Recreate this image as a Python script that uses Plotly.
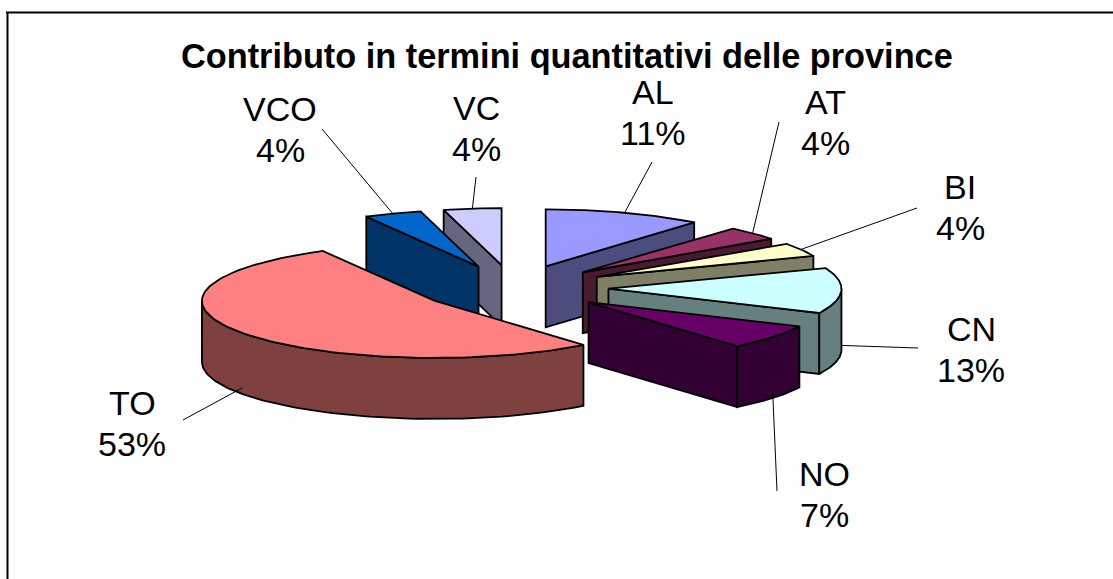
import numpy as np
import plotly.graph_objects as go

categories = ["AL", "AT", "BI", "CN", "NO", "TO", "VCO", "VC"]
values = [11, 4, 4, 13, 7, 53, 4, 4]
top_colors = ["#9999FF", "#993366", "#FFFFCC", "#CCFFFF", "#660066", "#FF8080", "#0066CC", "#CCCCFF"]
side_colors = ["#4C4C7F", "#4C1933", "#7F7F66", "#667F7F", "#330033", "#7F4040", "#003366", "#66667F"]
draw_order = ["VC", "AL", "VCO", "AT", "BI", "CN", "NO", "TO"]

# pie projection (paper pixels)
CX, CY, EX, EY, RX, RY, DEPTH = 513.5, 288, 95, 23, 233, 57, 61

# label anchor (text centre) and leader-line end for each province
label_pos = {"AL": (653, 112), "AT": (825, 122), "BI": (960, 207), "CN": (971, 349),
             "NO": (824, 494), "TO": (132, 423), "VCO": (280, 129), "VC": (476, 128)}
leader_end = {"AL": (652, 162), "AT": (779, 122), "BI": (917, 208), "CN": (918, 348),
              "NO": (777, 491), "TO": (183, 420), "VCO": (322, 129), "VC": (476, 177)}
LINE_GAP = 41

total = sum(values)
fracs = np.cumsum([0] + values) / total * 2 * np.pi
geom = {}
for i, c in enumerate(categories):
    a0, a1 = fracs[i], fracs[i + 1]
    mid = (a0 + a1) / 2
    geom[c] = dict(ax=CX + EX * np.sin(mid), ay=CY - EY * np.cos(mid), a0=a0, a1=a1,
                   top=top_colors[i], side=side_colors[i], mid=mid)


def rim(g, t):
    t = np.asarray(t)
    return g["ax"] + RX * np.sin(t), g["ay"] - RY * np.cos(t)


fig = go.Figure()


def poly(x, y, color):
    fig.add_trace(go.Scatter(x=list(x) + [x[0]], y=list(y) + [y[0]], mode="lines", fill="toself",
                             fillcolor=color, line=dict(color="black", width=1.8),
                             hoverinfo="skip", showlegend=False))


def radial_wall(g, a):
    ex, ey = rim(g, a)
    ax, ay = g["ax"], g["ay"]
    poly([ax, ex, ex, ax], [ay, ey, ey + DEPTH, ay + DEPTH], g["side"])


for c in draw_order:
    g = geom[c]
    a0, a1 = g["a0"], g["a1"]
    # flat cut faces turned to the viewer
    if np.sin(a1) > 1e-6:
        radial_wall(g, a1)
    if np.sin(a0) < -1e-6:
        radial_wall(g, a0)
    # curved outer wall on the near half of the ellipse
    lo, hi = max(a0, np.pi / 2), min(a1, 3 * np.pi / 2)
    if hi > lo:
        t = np.linspace(lo, hi, 80)
        x, y = rim(g, t)
        poly(list(x) + list(x[::-1]), list(y) + list((y + DEPTH)[::-1]), g["side"])
    # top face
    t = np.linspace(a0, a1, 120)
    x, y = rim(g, t)
    poly([g["ax"]] + list(x), [g["ay"]] + list(y), g["top"])

annotations = [dict(x=567, y=56, xref="x", yref="y", text="<b>Contributo in termini quantitativi delle province</b>",
                    showarrow=False, font=dict(family="Liberation Sans", size=34.3, color="black"))]
shapes = [
    dict(type="line", xref="x", yref="y", x0=6, y0=12.5, x1=1113, y1=12.5, line=dict(color="black", width=2)),
    dict(type="line", xref="x", yref="y", x0=7.5, y0=12, x1=7.5, y1=579, line=dict(color="black", width=2)),
]
for i, c in enumerate(categories):
    g = geom[c]
    lx, ly = label_pos[c]
    for text, off in ((c, -LINE_GAP / 2), (f"{values[i]}%", LINE_GAP / 2)):
        annotations.append(dict(x=lx, y=ly + off, xref="x", yref="y", text=text, showarrow=False,
                                font=dict(family="Liberation Sans", size=34, color="black")))
    m = g["mid"]
    sx, sy = rim(g, m)
    if np.cos(m) < 0:
        sy = sy + DEPTH * 0.9
    ex, ey = leader_end[c]
    shapes.append(dict(type="line", xref="x", yref="y", x0=sx, y0=sy, x1=ex, y1=ey,
                       line=dict(color="black", width=1)))

fig.update_layout(
    width=1113, height=579, margin=dict(l=0, r=0, t=0, b=0), showlegend=False,
    paper_bgcolor="white", plot_bgcolor="white",
    xaxis=dict(range=[0, 1113], visible=False, fixedrange=True),
    yaxis=dict(range=[579, 0], visible=False, fixedrange=True),
    annotations=annotations, shapes=shapes,
)
fig.write_html("out.html", config={"displayModeBar": False},
               post_script="document.body.style.margin='0';document.documentElement.style.overflow='hidden';")
